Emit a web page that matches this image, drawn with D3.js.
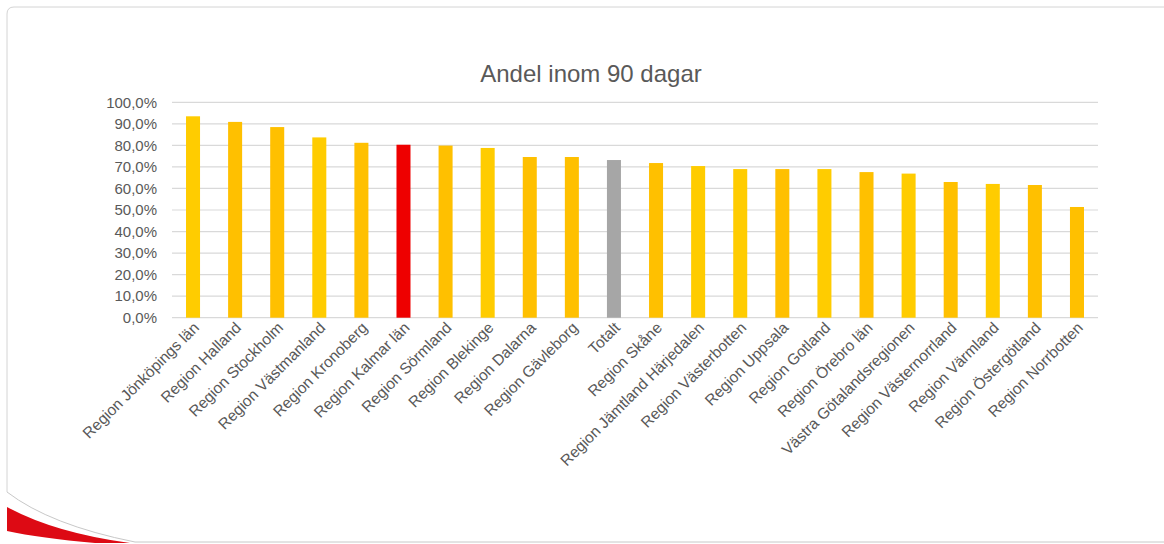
<!DOCTYPE html>
<html lang="sv">
  <head>
    <meta charset="UTF-8" />
    <title>Andel inom 90 dagar</title>
    <script src="https://cdn.jsdelivr.net/npm/d3@7"></script>
    <style>
      body { margin: 0; background: #fff; }
      svg { display: block; }
      text { font-family: "Liberation Sans", Arial, sans-serif; fill: #595959; }
    </style>
  </head>
  <body>
    <svg width="1164" height="544"></svg>
    <script>
      const regions = [
        "Region Jönköpings län", "Region Halland", "Region Stockholm", "Region Västmanland",
        "Region Kronoberg", "Region Kalmar län", "Region Sörmland", "Region Blekinge",
        "Region Dalarna", "Region Gävleborg", "Totalt", "Region Skåne",
        "Region Jämtland Härjedalen", "Region Västerbotten", "Region Uppsala", "Region Gotland",
        "Region Örebro län", "Västra Götalandsregionen", "Region Västernorrland", "Region Värmland",
        "Region Östergötland", "Region Norrbotten"
      ];
      const shares = [
        0.935, 0.909, 0.885, 0.837, 0.812, 0.803, 0.799, 0.788,
        0.746, 0.746, 0.732, 0.718, 0.704, 0.690, 0.690, 0.690,
        0.676, 0.669, 0.630, 0.621, 0.616, 0.514
      ];
      const barColors = [
        "#FFCC00", "#FFC000", "#FFC000", "#FFCC00", "#FFC000", "#EE0000", "#FFC000", "#FFCC00",
        "#FFC000", "#FFC000", "#A6A6A6", "#FFC000", "#FFCC00", "#FFCC00", "#FFC000", "#FFCC00",
        "#FFC000", "#FFCC00", "#FFC000", "#FFCC00", "#FFC000", "#FFC000"
      ];
      const yTicks = d3.range(0, 11).map(d => d / 10);

      const data = regions.map((r, i) => ({ key: r, value: shares[i], color: barColors[i] }));

      const svg = d3.select("svg");
      const plotLeft = 172, plotRight = 1098, plotTop = 102.3, plotBottom = 317.7;

      // frame + corner decoration
      svg.append("path")
        .attr("d", "M7,492 L7,14 Q7,7 14,7 L1164,7")
        .attr("fill", "none").attr("stroke", "#d4d4d4").attr("stroke-width", 1);
      svg.append("path")
        .attr("d", "M7,492 Q50,525 135,542 L1164,542")
        .attr("fill", "none").attr("stroke", "#c8c8c8").attr("stroke-width", 1);
      svg.append("path")
        .attr("d", "M7,507 Q55,533 130,543 L95,543 Q40,538 7,531 Z")
        .attr("fill", "#DD0A14");

      const x = d3.scaleBand()
        .domain(regions)
        .range([plotLeft, plotRight])
        .paddingInner(0.667)
        .paddingOuter(0.333);

      const y = d3.scaleLinear().domain([0, 1]).range([plotBottom, plotTop]);

      const sv = d3.formatLocale({ decimal: ",", thousands: " ", grouping: [3], currency: ["", " kr"] });
      const pct = sv.format(".1%");

      // gridlines
      svg.append("g")
        .selectAll("line")
        .data(yTicks)
        .join("line")
        .attr("x1", plotLeft).attr("x2", plotRight)
        .attr("y1", d => y(d)).attr("y2", d => y(d))
        .attr("stroke", "#d9d9d9").attr("stroke-width", 1.2);

      // y axis labels
      const yAxis = svg.append("g")
        .attr("transform", `translate(${plotLeft},0)`)
        .call(d3.axisLeft(y).tickValues(yTicks).tickFormat(pct).tickSize(0).tickPadding(15));
      yAxis.select(".domain").remove();
      yAxis.selectAll("text")
        .style("font-size", "15px")
        .style("font-family", "'Liberation Sans', Arial, sans-serif")
        .attr("fill", "#595959");

      // bars
      svg.append("g")
        .selectAll("rect")
        .data(data)
        .join("rect")
        .attr("x", d => x(d.key))
        .attr("width", x.bandwidth())
        .attr("y", d => y(d.value))
        .attr("height", d => y(0) - y(d.value))
        .attr("fill", d => d.color);

      // x labels
      svg.append("g")
        .selectAll("text")
        .data(regions)
        .join("text")
        .attr("transform", d => `translate(${x(d) + x.bandwidth() / 2 + 7},${plotBottom + 11}) rotate(-45)`)
        .attr("text-anchor", "end")
        .style("font-size", "15.5px")
        .text(d => d);

      // title
      svg.append("text")
        .attr("x", 591).attr("y", 82)
        .attr("text-anchor", "middle")
        .style("font-size", "24px")
        .text("Andel inom 90 dagar");
    </script>
  </body>
</html>
